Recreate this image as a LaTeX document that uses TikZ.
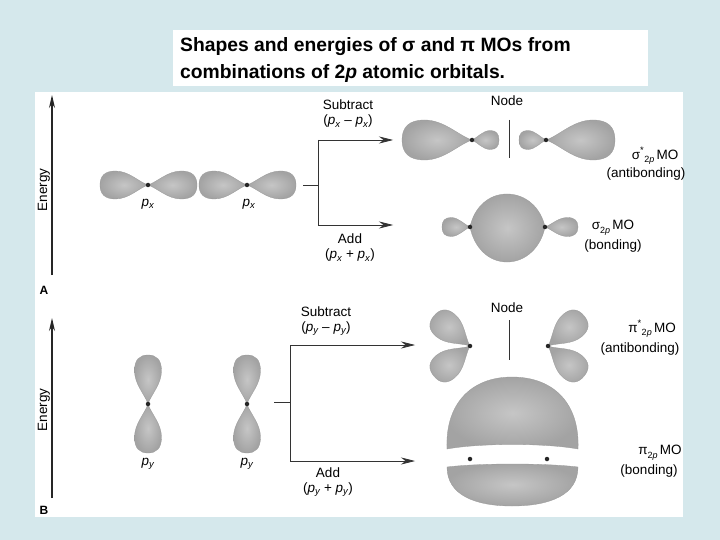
\documentclass[tikz,border=0pt]{standalone}
\usepackage{fontspec}
\setmainfont{Liberation Sans}
\usetikzlibrary{arrows.meta}
\definecolor{bgc}{HTML}{D5E8EC}
\tikzset{
  lobesty/.style={inner color=gray!45,outer color=gray!72,draw=gray!80,line width=0.3pt},
  nuc/.style={circle,fill=black!85,inner sep=0pt,minimum size=4.5pt},
  lbl/.style={font=\fontsize{13.5}{15}\selectfont,align=center,inner sep=1pt},
  conn/.style={line width=0.7pt,black!80},
  arr/.style={conn,-{Stealth[length=14pt,width=7pt]}},
  eax/.style={line width=1.3pt,black!85,-{Stealth[length=13pt,width=6pt]}}
}
\newcommand\lobe[5]{\begin{scope}[shift={(#1,#2)},rotate=#3]\shade[lobesty] (0,0) .. controls ({0.2*#4},{0.12*#5}) and ({0.4*#4},{0.5*#5}) .. ({0.68*#4},{0.5*#5}) .. controls ({0.9*#4},{0.5*#5}) and (#4,{0.32*#5}) .. (#4,0) .. controls (#4,{-0.32*#5}) and ({0.9*#4},{-0.5*#5}) .. ({0.68*#4},{-0.5*#5}) .. controls ({0.4*#4},{-0.5*#5}) and ({0.2*#4},{-0.12*#5}) .. (0,0) -- cycle;\end{scope}}
\newcommand\pp[1]{{\itshape p}\textsubscript{\itshape #1}}
\begin{document}
\begin{tikzpicture}[x=1pt,y=-1pt]
\fill[bgc] (0,0) rectangle (720,540);
\useasboundingbox (0,0) rectangle (720,540);
\fill[white] (173,30) rectangle (648,86);
\fill[white] (35,92) rectangle (683,517);
\node[anchor=north west,align=left,font=\bfseries\fontsize{19.3}{27}\selectfont,inner sep=0pt] (title) at (180,37) {Shapes and energies of σ and π MOs from\\combinations of 2\textit{p} atomic orbitals.};
% ---------- Panel A
\coordinate (ea0) at (52,275); \coordinate (ea1) at (52,95);
\draw[eax] (ea0) -- (ea1);
\node[lbl,rotate=90] (enA) at (44,190) {Energy};
\node[font=\bfseries\fontsize{12}{13}\selectfont] (A) at (44,290) {A};
\lobe{148}{185}{180}{48}{28}\lobe{148}{185}{0}{49}{28}
\lobe{247}{185}{180}{48}{28}\lobe{247}{185}{0}{49}{28}
\node[nuc] (nA1) at (148,185) {}; \node[nuc] (nA2) at (247,185) {};
\node[lbl] (pxa) at (148,204) {\pp{x}};
\node[lbl] (pxb) at (249,204) {\pp{x}};
\coordinate (sA0) at (303,185); \coordinate (sA1) at (318,185);
\coordinate (tA) at (318,140); \coordinate (bA) at (318,225);
\coordinate (tAe) at (393,140); \coordinate (bAe) at (393,225);
\draw[conn] (sA0) -- (sA1);
\draw[conn] (tA) -- (bA);
\draw[arr] (tA) -- (tAe);
\draw[arr] (bA) -- (bAe);
\node[lbl] (subA) at (348,114) {Subtract\\(\pp{x} – \pp{x})};
\node[lbl] (addA) at (350,248) {Add\\(\pp{x} + \pp{x})};
% antibonding sigma
\lobe{472}{140}{180}{70}{40}\lobe{472}{140}{0}{27}{19}
\lobe{546}{140}{180}{27}{19}\lobe{546}{140}{0}{69}{40}
\node[nuc] (sa1) at (472,140) {}; \node[nuc] (sa2) at (546,140) {};
\coordinate (ndA0) at (509,120); \coordinate (ndA1) at (509,158);
\draw[conn] (ndA0) -- (ndA1);
\node[lbl] (nodeA) at (507,101) {Node};
\node[lbl] (ssA) at (655,156) {σ\textsuperscript{*}\raisebox{-0.5ex}{\small 2\itshape p}\,MO};
\node[lbl] (abA) at (646,174) {(antibonding)};
% bonding sigma
\lobe{470}{227}{180}{28}{19}\lobe{545}{227}{0}{33}{19}
\shade[lobesty] (470,227) .. controls (474,208) and (488,194) .. (507,194) .. controls (526,194) and (541,208) .. (545,227) .. controls (541,247) and (526,262) .. (507,262) .. controls (488,262) and (474,247) .. (470,227) -- cycle;
\node[nuc] (sb1) at (470,227) {}; \node[nuc] (sb2) at (545,227) {};
\node[lbl] (sbA) at (613,228) {σ\raisebox{-0.5ex}{\small 2\itshape p}\,MO};
\node[lbl] (bdA) at (613,246) {(bonding)};
% ---------- Panel B
\coordinate (eb0) at (52,498); \coordinate (eb1) at (52,318);
\draw[eax] (eb0) -- (eb1);
\node[lbl,rotate=90] (enB) at (44,410) {Energy};
\node[font=\bfseries\fontsize{12}{13}\selectfont] (B) at (44,510) {B};
\lobe{148}{404}{90}{49}{27}\lobe{148}{404}{-90}{49}{27}
\lobe{247}{404}{90}{49}{27}\lobe{247}{404}{-90}{49}{27}
\node[nuc] (nB1) at (148,404) {}; \node[nuc] (nB2) at (247,404) {};
\node[lbl] (pya) at (148,464) {\pp{y}};
\node[lbl] (pyb) at (247,464) {\pp{y}};
\coordinate (sB0) at (274,402); \coordinate (sB1) at (290,402);
\coordinate (tB) at (290,345); \coordinate (bB) at (290,461);
\coordinate (tBe) at (415,345); \coordinate (bBe) at (415,461);
\draw[conn] (sB0) -- (sB1);
\draw[conn] (tB) -- (bB);
\draw[arr] (tB) -- (tBe);
\draw[arr] (bB) -- (bBe);
\node[lbl] (subB) at (326,321) {Subtract\\(\pp{y} – \pp{y})};
\node[lbl] (addB) at (328,482) {Add\\(\pp{y} + \pp{y})};
% antibonding pi
\lobe{470}{346}{140}{47}{29}\lobe{470}{346}{220}{47}{29}
\lobe{548}{346}{40}{47}{29}\lobe{548}{346}{-40}{47}{29}
\node[nuc] (pa1) at (470,346) {}; \node[nuc] (pa2) at (548,346) {};
\coordinate (ndB0) at (509,320); \coordinate (ndB1) at (509,360);
\draw[conn] (ndB0) -- (ndB1);
\node[lbl] (nodeB) at (507,308) {Node};
\node[lbl] (psB) at (652,329) {π\textsuperscript{*}\raisebox{-0.5ex}{\small 2\itshape p}\,MO};
\node[lbl] (abB) at (640,349) {(antibonding)};
% bonding pi
\shade[lobesty] (447,449) .. controls (445,405) and (470,377) .. (512,377) .. controls (555,377) and (580,405) .. (578,449) .. controls (545,443) and (480,443) .. (447,449) -- cycle;
\shade[lobesty] (447,467) .. controls (480,463) and (545,463) .. (578,467) .. controls (578,495) and (550,506) .. (512,506) .. controls (475,506) and (447,495) .. (447,467) -- cycle;
\node[nuc] (pb1) at (470,459) {}; \node[nuc] (pb2) at (547,459) {};
\node[lbl] (pbB) at (660,453) {π\raisebox{-0.5ex}{\small 2\itshape p}\,MO};
\node[lbl] (bdB) at (649,471) {(bonding)};
\end{tikzpicture}
\end{document}
